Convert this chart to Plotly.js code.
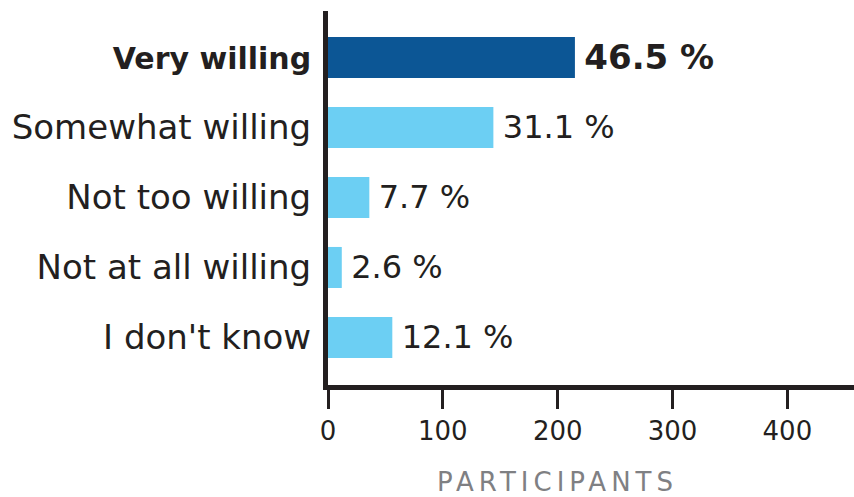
<!DOCTYPE html>
<html>
<head>
<meta charset="utf-8">
<script src="https://cdn.plot.ly/plotly-3.0.1.min.js"></script>
<style>
  html, body { margin: 0; padding: 0; background: #fff; }
  #chart { width: 854px; height: 497px; }
  .annotation-text { letter-spacing: 5px; }
</style>
</head>
<body>
<div id="chart"></div>
<script>
const categories = ["Very willing", "Somewhat willing", "Not too willing", "Not at all willing", "I don't know"];
const participants = [215, 144, 36, 12, 56];
const percentLabels = ["46.5 %", "31.1 %", "7.7 %", "2.6 %", "12.1 %"];
const xTickValues = [0, 100, 200, 300, 400];
const xTitle = "PARTICIPANTS";
const highlighted = "Very willing";

const darkBlue = "#0c5695";
const lightBlue = "#6ccff3";
const ink = "#231f20";
const FONT = "DejaVu Sans";

const barColors = categories.map(c => c === highlighted ? darkBlue : lightBlue);
const barText = percentLabels.map((p, i) => categories[i] === highlighted
  ? "\u2009<span style=\"font-size:34px\"><b>" + p + "</b></span>"
  : "\u2009" + p);
const yTickText = categories.map(c => c === highlighted
  ? "<span style=\"font-size:30px\"><b>" + c + "</b></span>"
  : c);

const trace = {
  type: "bar",
  orientation: "h",
  x: participants,
  y: categories,
  marker: { color: barColors },
  text: barText,
  textposition: "outside",
  cliponaxis: false,
  textfont: { family: FONT, size: 32, color: ink },
  hoverinfo: "none"
};

const layout = {
  width: 854,
  height: 497,
  margin: { l: 328, r: 0, t: 11, b: 112, pad: 0 },
  paper_bgcolor: "#ffffff",
  plot_bgcolor: "#ffffff",
  showlegend: false,
  bargap: 0.414,
  font: { family: FONT, color: ink },
  xaxis: {
    range: [0, 458],
    tickvals: xTickValues,
    ticktext: xTickValues.map(String),
    showgrid: false,
    zeroline: false,
    showline: true,
    linecolor: ink,
    linewidth: 5,
    ticks: "outside",
    ticklen: 19,
    tickwidth: 3,
    tickcolor: ink,
    tickfont: { family: FONT, size: 26, color: ink },
    fixedrange: true
  },
  yaxis: {
    type: "category",
    categoryorder: "array",
    categoryarray: categories,
    range: [4.679, -0.664],
    tickvals: categories,
    ticktext: yTickText,
    showgrid: false,
    zeroline: false,
    showline: true,
    linecolor: ink,
    linewidth: 5,
    ticks: "",
    ticklabelstandoff: 5,
    tickfont: { family: FONT, size: 34, color: ink },
    fixedrange: true
  },
  annotations: [{
    text: xTitle,
    xref: "x",
    yref: "paper",
    x: 200,
    y: 0,
    yanchor: "top",
    xanchor: "center",
    yshift: -80,
    showarrow: false,
    font: { family: FONT, size: 26, color: "#7f8083" }
  }]
};

Plotly.newPlot("chart", [trace], layout, { displayModeBar: false, staticPlot: true });
</script>
</body>
</html>
